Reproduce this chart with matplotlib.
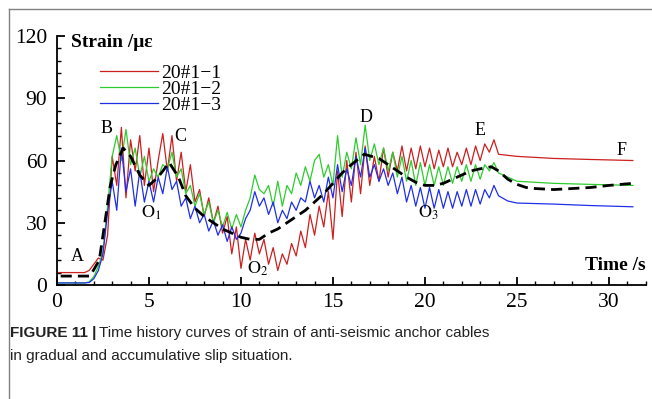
import numpy as np
import matplotlib
matplotlib.use("Agg")
import matplotlib.pyplot as plt
from matplotlib.lines import Line2D
from matplotlib.ticker import MultipleLocator

# ==== Data ====
# oscillating part, sampled every 0.25 s from 0 to 24 s
t_main = np.arange(0, 24.01, 0.25)

red_main = [6, 6, 6, 6, 6, 6, 6, 7,
            10, 13, 12, 24, 62, 48, 76, 42, 70, 55, 72, 48, 66, 45, 60, 73,
            55, 72, 50, 64, 45, 58, 40, 46, 33, 42, 30, 38, 25, 33, 15, 28,
            8, 22, 12, 25, 15, 22, 10, 18, 7, 15, 10, 20, 14, 26, 18, 34,
            24, 38, 28, 45, 22, 55, 33, 60, 40, 64, 44, 67, 48, 62, 50, 66,
            52, 64, 55, 67, 55, 66, 56, 67, 57, 66, 56, 65, 57, 66, 57, 64,
            58, 66, 58, 67, 60, 68, 64, 70, 63]
green_main = [1, 1, 1, 1, 1, 1, 1, 1.5,
              4, 9, 16, 38, 62, 72, 60, 75, 58, 66, 52, 62, 50, 56, 52, 58,
              56, 64, 52, 56, 44, 48, 38, 44, 34, 40, 30, 36, 28, 35, 27, 34,
              28, 36, 42, 53, 46, 44, 48, 38, 50, 38, 48, 44, 54, 48, 57, 50,
              60, 63, 52, 58, 48, 72, 52, 64, 56, 71, 58, 77, 60, 68, 58, 66,
              55, 64, 52, 62, 50, 60, 48, 59, 48, 58, 48, 57, 48, 57, 49, 57,
              50, 58, 50, 58, 51, 58, 55, 59, 54]
blue_main = [1, 1, 1, 1, 1, 1, 1, 1.2,
             3, 7, 15, 35, 50, 36, 66, 45, 56, 38, 55, 40, 50, 40, 52, 44,
             57, 46, 50, 38, 42, 32, 38, 30, 34, 26, 31, 24, 29, 21, 28, 22,
             25, 32, 36, 45, 38, 42, 34, 40, 30, 36, 32, 40, 36, 42, 40, 50,
             42, 48, 40, 52, 42, 58, 45, 56, 48, 62, 52, 66, 52, 58, 50, 56,
             48, 54, 44, 52, 40, 48, 38, 47, 37, 47, 37, 46, 37, 45, 37, 45,
             38, 46, 38, 46, 39, 46, 42, 48, 43]

# settled part after the shaking stops
t_tail = [24.5, 25.0, 27.0, 29.0, 31.3]
red_tail = [62.5, 62, 61, 60.5, 60]
green_tail = [52, 50, 49, 48.5, 48]
blue_tail = [40.5, 39.5, 39, 38.3, 37.7]

# fitted trend (dashed)
t_fit = [0.2, 1.8, 2.3, 2.6, 2.9, 3.2, 3.6, 4.0, 4.5, 5.0, 5.5, 6.1, 6.6, 7.0,
         7.5, 8.0, 8.5, 9.0, 9.5, 10.0, 10.5, 11.0, 11.5, 12.0, 12.5, 13.0,
         13.5, 14.0, 14.5, 15.0, 15.5, 16.0, 16.7, 17.5, 18.0, 18.5, 19.0,
         19.5, 20.0, 20.5, 21.0, 21.5, 22.0, 22.5, 23.0, 23.6, 24.0, 24.5,
         25.0, 25.5, 26.0, 27.0, 28.0, 29.0, 30.0, 31.3]
fit = [4.3, 4.3, 12, 30, 48, 58, 66, 62, 53, 48, 52, 59, 52, 43,
       37, 33, 30, 27, 25, 23, 22, 22, 25, 27, 30, 33,
       36, 40, 44, 49, 54, 58, 63, 61, 58, 55, 52,
       49.5, 48, 48, 49, 51, 53, 55, 56, 57, 55, 51,
       48.5, 47, 46.5, 46, 46.5, 47, 48, 49]

series_labels = ["20#1\u22121", "20#1\u22122", "20#1\u22123"]
series_colors = ["#cc1f1f", "#2ecc2e", "#1f2fe8"]

point_labels = ["A", "B", "C", r"$\mathrm{O_1}$", r"$\mathrm{O_2}$", "D", "E", "F", r"$\mathrm{O_3}$"]
point_x = [1.1, 2.7, 6.7, 5.1, 10.9, 16.8, 23.0, 30.7, 20.2]
point_y = [13.5, 75.5, 71.5, 35, 8, 80.5, 74.5, 65, 35]

SERIF = ["Liberation Serif", "DejaVu Serif"]
SANS = ["Liberation Sans Narrow", "Liberation Sans"]

plt.rcParams["mathtext.fontset"] = "stix"

fig = plt.figure(figsize=(6.52, 3.99), dpi=100)
ax = fig.add_axes([0.0874, 0.2857, 0.903, 0.624])

mains = [red_main, green_main, blue_main]
tails = [red_tail, green_tail, blue_tail]
for main, tail, col in zip(mains, tails, series_colors):
    tt = list(t_main) + t_tail
    yy = list(main) + tail
    ax.plot(tt, yy, color=col, lw=0.9)
ax.plot(t_fit, fit, color="black", lw=2.0, ls=(0, (4, 2.2)))

ax.set_xlim(0, 32)
ax.set_ylim(0, 120)
ax.xaxis.set_major_locator(MultipleLocator(5))
ax.xaxis.set_minor_locator(MultipleLocator(1))
ax.yaxis.set_major_locator(MultipleLocator(30))
ax.yaxis.set_minor_locator(MultipleLocator(6))
for s in ["top", "right"]:
    ax.spines[s].set_visible(False)
for s in ["left", "bottom"]:
    ax.spines[s].set_linewidth(1.3)
ax.tick_params(which="major", direction="in", length=6, width=1.3, labelsize=15.5, pad=6)
ax.tick_params(which="minor", direction="in", length=3, width=1.0)
ax.tick_params(axis="y", pad=7)
for lab in ax.get_xticklabels() + ax.get_yticklabels():
    lab.set_family(SERIF)

ax.text(0.75, 117, "Strain /\u03bc\u03b5", family=SERIF, fontsize=14, fontweight="bold", va="center", ha="left")
ax.text(32, 9.6, "Time /s", family=SERIF, fontsize=14, fontweight="bold", va="center", ha="right")

for lab, x, y in zip(point_labels, point_x, point_y):
    ax.text(x, y, lab, family=SERIF, fontsize=13, ha="center", va="center")

handles = [Line2D([], [], color=c, lw=0.9) for c in series_colors]
ax.legend(handles, series_labels, loc="upper left", bbox_to_anchor=(0.073, 0.885),
          frameon=False, prop={"family": SERIF, "size": 14}, handlelength=3.0,
          handletextpad=0.15, labelspacing=-0.1, borderpad=0, borderaxespad=0)

# figure frame (top and left edge only)
fig.add_artist(Line2D([9 / 652, 1], [1 - 9 / 399, 1 - 9 / 399], color="#808080", lw=1.0))
fig.add_artist(Line2D([9 / 652, 9 / 652], [0, 1 - 9 / 399], color="#808080", lw=1.0))

# caption
cap_y1 = 1 - 333 / 399
cap_y2 = 1 - 356 / 399
t1 = fig.text(10 / 652, cap_y1, "FIGURE 11 |", family=SANS,
              fontsize=11, fontweight="bold", color="#222222", va="center")
fig.canvas.draw()
bb = t1.get_window_extent()
fig.text(bb.x1 / 652 + 0.004, cap_y1, "Time history curves of strain of anti-seismic anchor cables",
         family=SANS, fontsize=11, color="#222222", va="center")
fig.text(10 / 652, cap_y2, "in gradual and accumulative slip situation.",
         family=SANS, fontsize=11, color="#222222", va="center")

fig.savefig("out.png", dpi=100)
